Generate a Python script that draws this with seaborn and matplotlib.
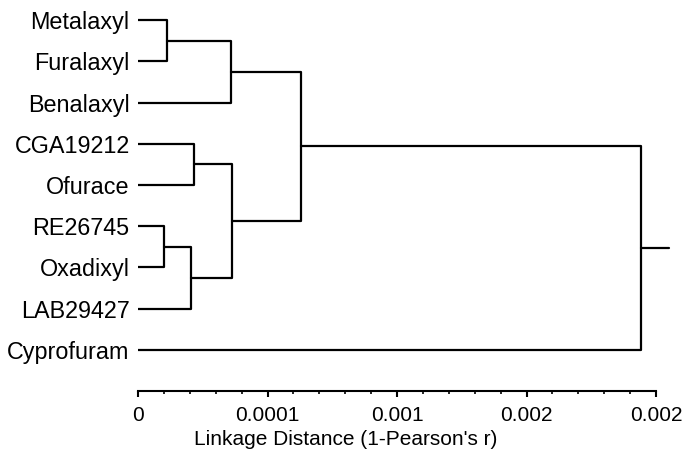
import matplotlib
matplotlib.use("Agg")
from matplotlib import pyplot as plt
from matplotlib import ticker
import seaborn as sns
import pandas as pd
import numpy as np

# leaves from top to bottom
leaves = ["Metalaxyl", "Furalaxyl", "Benalaxyl", "CGA19212", "Ofurace",
          "RE26745", "Oxadixyl", "LAB29427", "Cyprofuram"]

# merges: (left, right, height) -- ids >= len(leaves) are earlier merges
merges = [
    (0, 1, 0.224),     # 9  Metalaxyl + Furalaxyl
    (5, 6, 0.200),     # 10 RE26745 + Oxadixyl
    (3, 4, 0.432),     # 11 CGA19212 + Ofurace
    (10, 7, 0.410),    # 12 + LAB29427
    (9, 2, 0.718),     # 13 + Benalaxyl
    (11, 12, 0.726),   # 14
    (13, 14, 1.259),   # 15
    (15, 8, 3.884),    # 16 + Cyprofuram
]

tick_pos = [0, 1, 2, 3, 4]
tick_labels = ["0", "0.0001", "0.001", "0.002", "0.002"]
root_stub = 0.22

sns.set_theme(style="white")
plt.rcParams['font.family'] = ['Liberation Sans', 'DejaVu Sans']
plt.rcParams['text.color'] = 'black'
plt.rcParams['xtick.color'] = 'black'
plt.rcParams['ytick.color'] = 'black'
plt.rcParams['axes.labelcolor'] = 'black'

# node positions
n = len(leaves)
ypos = {i: float(i) for i in range(n)}
hgt = {i: 0.0 for i in range(n)}
rows = []
seg = 0
for k, (a, b, h) in enumerate(merges):
    node = n + k
    xs = [hgt[a], h, h, hgt[b]]
    ys = [ypos[a], ypos[a], ypos[b], ypos[b]]
    for o, (xx, yy) in enumerate(zip(xs, ys)):
        rows.append({"seg": seg, "order": o, "x": xx, "y": yy})
    seg += 1
    ypos[node] = (ypos[a] + ypos[b]) / 2
    hgt[node] = h

root = n + len(merges) - 1
rows.append({"seg": seg, "order": 0, "x": hgt[root], "y": ypos[root]})
rows.append({"seg": seg, "order": 1, "x": hgt[root] + root_stub, "y": ypos[root]})
df = pd.DataFrame(rows)

fig = plt.figure(figsize=(6.84, 4.53), dpi=100)
ax = fig.add_axes([138 / 684, 62 / 453, 537 / 684, 391 / 453])

sns.lineplot(data=df, x="x", y="y", units="seg", estimator=None, sort=False,
             color="black", linewidth=1.6, ax=ax, legend=False)

ax.set_xlim(0, 537 / 129.5)
ax.set_ylim(9.0, -0.49)

for s in ["top", "right", "left"]:
    ax.spines[s].set_visible(False)
ax.spines["bottom"].set_bounds(0, 4)
ax.spines["bottom"].set_linewidth(1.5)
ax.spines["bottom"].set_color("black")

ax.set_xticks(tick_pos)
ax.set_xticklabels(tick_labels, fontsize=15)
ax.xaxis.set_minor_locator(ticker.FixedLocator(np.arange(0, 4.01, 0.2)))
ax.tick_params(axis="x", which="major", direction="out", length=4, width=1.5,
               pad=7, bottom=True)
ax.tick_params(axis="x", which="minor", direction="out", length=2.5, width=1.2,
               bottom=True)

ax.set_yticks(range(n))
ax.set_yticklabels(leaves, fontsize=16.8)
ax.tick_params(axis="y", length=0, pad=6)

ax.set_xlabel("Linkage Distance (1-Pearson's r)", fontsize=15)
ax.xaxis.set_label_coords((346 - 138) / 537, -39 / 391)
ax.set_ylabel("")

fig.savefig("out.png", dpi=100)
